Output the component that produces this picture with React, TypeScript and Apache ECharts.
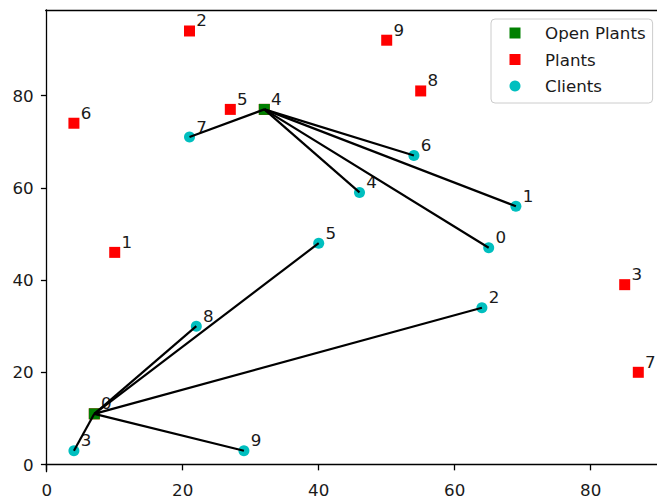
import React, { useEffect, useRef } from "react";
import * as echarts from "echarts";

const plantX = [7, 10, 21, 85, 32, 27, 4, 87, 55, 50];
const plantY = [11, 46, 94, 39, 77, 77, 74, 20, 81, 92];
const clientX = [65, 69, 64, 4, 46, 40, 54, 21, 22, 29];
const clientY = [47, 56, 34, 3, 59, 48, 67, 71, 30, 3];
const openPlants = [0, 4];
const assignment = [4, 4, 0, 0, 4, 0, 4, 4, 0, 0];
const xTicks = [0, 20, 40, 60, 80];
const yTicks = [0, 20, 40, 60, 80];

const FONT = "DejaVu Sans";
const FS = 16.7;
const TXT = "#1a1a1a";

export default function App() {
  const ref = useRef<HTMLDivElement>(null);
  useEffect(() => {
    if (!ref.current) return;
    const chart = echarts.init(ref.current, null, { renderer: "svg" });
    const labelCfg = {
      show: true,
      position: "inside",
      offset: [6.8, -10.5],
      align: "left",
      verticalAlign: "middle",
      fontFamily: FONT,
      fontSize: FS,
      color: TXT,
      formatter: (p: any) => String(p.dataIndex),
    };
    const plantsData = plantX.map((x, i) => [x, plantY[i]]);
    const openData = openPlants.map((i) => [plantX[i], plantY[i]]);
    const clientsData = clientX.map((x, i) => [x, clientY[i]]);
    const linesData = clientX.map((x, i) => ({
      coords: [
        [plantX[assignment[i]], plantY[assignment[i]]],
        [x, clientY[i]],
      ],
    }));
    const axisLine = { show: true, lineStyle: { color: "#000", width: 1.3 } };
    chart.setOption({
      animation: false,
      backgroundColor: "#fff",
      grid: {
        left: 45.7,
        right: 0,
        top: 10,
        bottom: 29.3,
        containLabel: false,
        outerBoundsMode: "none",
      },
      legend: {
        data: ["Open Plants", "Plants", "Clients"],
        orient: "vertical",
        left: 491,
        top: 19,
        padding: [4, 7, 7, 18.5],
        itemGap: 6.5,
        itemWidth: 11,
        itemHeight: 11,
        backgroundColor: "rgba(255,255,255,0.8)",
        borderColor: "#cccccc",
        borderWidth: 1,
        borderRadius: 4,
        textStyle: {
          fontFamily: FONT,
          fontSize: FS,
          color: TXT,
          lineHeight: 20,
          padding: [0, 0, 0, 19.5],
        },
      },
      xAxis: [
        {
          type: "value",
          min: -0.15,
          max: 89.75,
          splitLine: { show: false },
          axisLine,
          axisTick: {
            show: true,
            length: 5.8,
            lineStyle: { color: "#000", width: 1.3 },
            customValues: xTicks,
          },
          axisLabel: {
            customValues: xTicks,
            margin: 10,
            fontFamily: FONT,
            fontSize: FS,
            color: TXT,
          },
        },
        {
          type: "value",
          position: "top",
          min: -0.15,
          max: 89.75,
          splitLine: { show: false },
          axisLine,
          axisTick: { show: false },
          axisLabel: { show: false },
        },
      ],
      yAxis: {
        type: "value",
        min: -1.55,
        max: 98.55,
        splitLine: { show: false },
        axisLine,
        axisTick: {
          show: true,
          length: 5.8,
          lineStyle: { color: "#000", width: 1.3 },
          customValues: yTicks,
        },
        axisLabel: {
          customValues: yTicks,
          margin: 12,
          fontFamily: FONT,
          fontSize: FS,
          color: TXT,
        },
      },
      series: [
        {
          name: "Plants",
          type: "scatter",
          symbol: "rect",
          symbolSize: 11,
          itemStyle: { color: "#ff0000", opacity: 1 },
          data: plantsData,
          label: labelCfg,
          z: 2,
        },
        {
          name: "Open Plants",
          type: "scatter",
          symbol: "rect",
          symbolSize: 11,
          itemStyle: { color: "#008000", opacity: 1 },
          data: openData,
          z: 3,
        },
        {
          name: "Clients",
          type: "scatter",
          symbol: "circle",
          symbolSize: 11,
          itemStyle: { color: "#00bfbf", opacity: 1 },
          data: clientsData,
          label: labelCfg,
          z: 4,
        },
        {
          name: "Assignments",
          type: "lines",
          coordinateSystem: "cartesian2d",
          lineStyle: { color: "#000", width: 2.2, opacity: 1 },
          data: linesData,
          z: 5,
        },
      ],
    });
    return () => chart.dispose();
  }, []);
  return (
    <div
      ref={ref}
      style={{ position: "absolute", left: 0, top: 0, width: 657, height: 501 }}
    />
  );
}
